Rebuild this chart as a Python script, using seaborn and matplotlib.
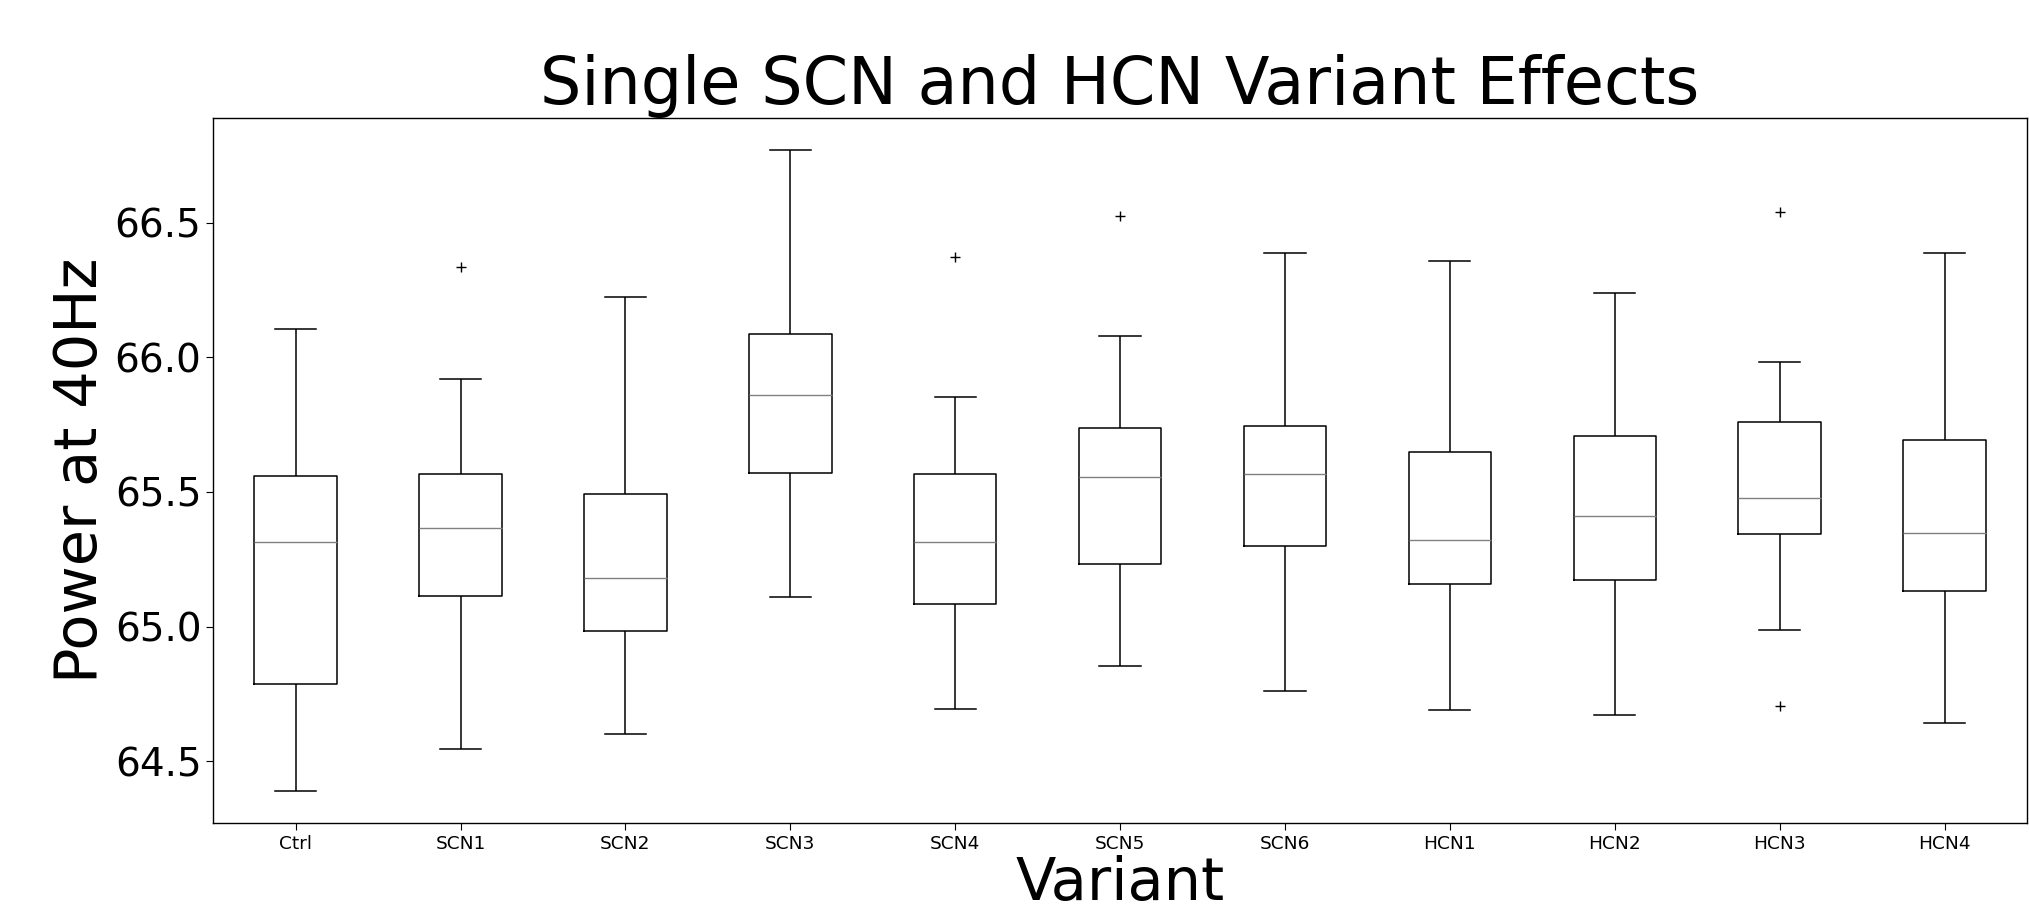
import numpy as np
import pandas as pd
import matplotlib
matplotlib.use("Agg")
import matplotlib.pyplot as plt
import seaborn as sns

# Values (box statistics per variant)
variants = ["Ctrl", "SCN1", "SCN2", "SCN3", "SCN4", "SCN5",
            "SCN6", "HCN1", "HCN2", "HCN3", "HCN4"]
whisker_low = [64.388, 64.546, 64.600, 65.111, 64.694, 64.853,
               64.759, 64.689, 64.673, 64.988, 64.642]
q1 = [64.785, 65.112, 64.985, 65.571, 65.083, 65.233,
      65.300, 65.158, 65.174, 65.342, 65.133]
median = [65.314, 65.366, 65.182, 65.861, 65.314, 65.555,
          65.567, 65.321, 65.410, 65.476, 65.349]
q3 = [65.560, 65.567, 65.494, 66.087, 65.567, 65.739,
      65.744, 65.650, 65.706, 65.760, 65.693]
whisker_high = [66.105, 65.919, 66.222, 66.771, 65.853, 66.080,
                66.388, 66.358, 66.239, 65.984, 66.386]
outliers = [[], [66.336], [], [], [66.371], [66.526],
            [], [], [], [66.538, 64.705], []]

# Sample values per variant built only from the read values above
rows = []
for i, name in enumerate(variants):
    vals = [whisker_low[i], q1[i], q1[i], median[i], median[i],
            q3[i], q3[i], whisker_high[i]] + outliers[i]
    for v in vals:
        rows.append({"Variant": name, "Power": v})
df = pd.DataFrame(rows)

fig = plt.figure(figsize=(20.29, 9.10), dpi=100)
ax = fig.add_axes([0.1051, 0.0951, 0.8939, 0.7757])

sns.boxplot(data=df, x="Variant", y="Power", order=variants, ax=ax,
            fill=False, color="black", width=0.5, linewidth=1.1,
            whis=1.5,
            medianprops={"color": "#808080", "linewidth": 1.0},
            flierprops={"marker": "+", "markersize": 7,
                        "markeredgecolor": "black",
                        "markerfacecolor": "black",
                        "markeredgewidth": 1.0})

ax.set_xlim(-0.5, len(variants) - 0.5)
for s in ax.spines.values():
    s.set_visible(True)
    s.set_color("black")
    s.set_linewidth(1.0)
ax.set_yticks([64.5, 65.0, 65.5, 66.0, 66.5])
ax.tick_params(axis="y", labelsize=28, direction="out", length=5)
ax.tick_params(axis="x", labelsize=13.3, direction="out", length=5)
ax.set_title("Single SCN and HCN Variant Effects", fontsize=47, pad=3)
ax.set_xlabel("Variant", fontsize=42.5, labelpad=1)
ax.set_ylabel("Power at 40Hz", fontsize=42.5, labelpad=4)
ax.grid(False)

fig.savefig("out.png", dpi=100, facecolor="white")
